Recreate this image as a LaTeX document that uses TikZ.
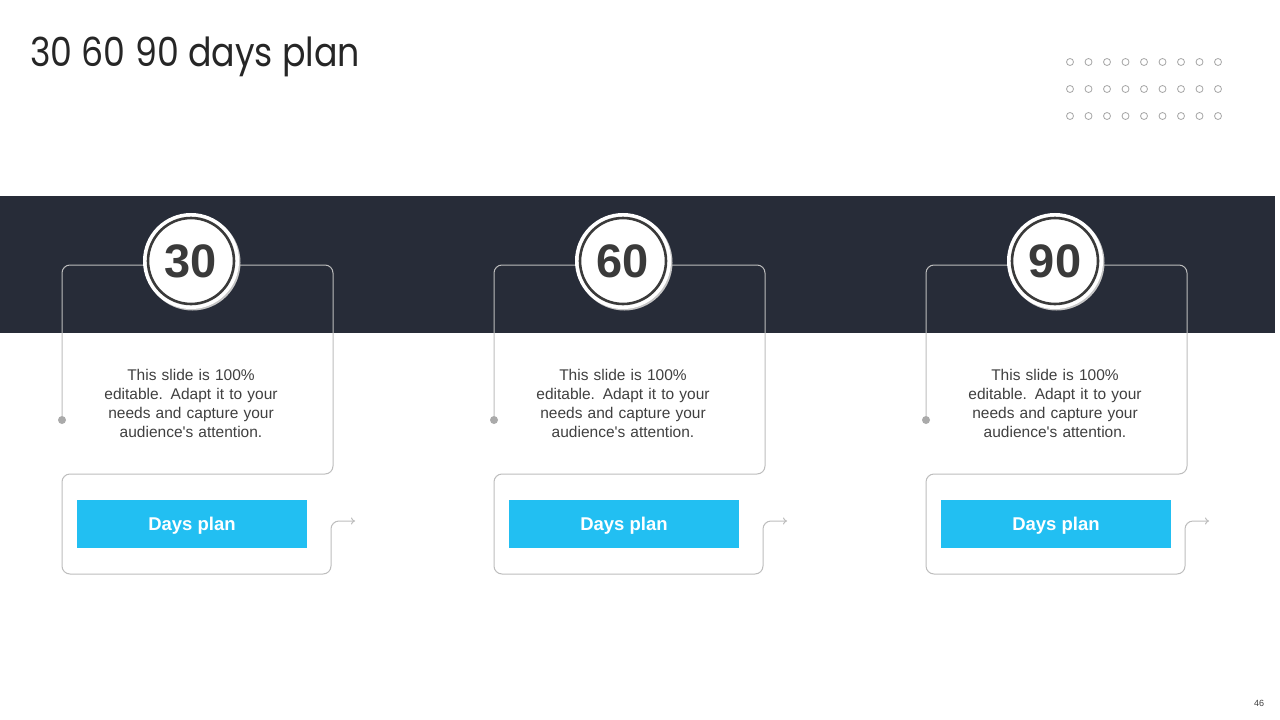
\documentclass[tikz,border=0pt]{standalone}
\usepackage{fontspec}
\setmainfont{Liberation Sans}
\newfontfamily\titlefont{Poppins}
\usepackage{xcolor}
\usetikzlibrary{positioning, arrows.meta}
\definecolor{bandgray}{HTML}{272C38}
\definecolor{planblue}{HTML}{22BFF2}
\definecolor{framegray}{HTML}{BDBDBD}
\definecolor{ringgray}{HTML}{3A3A3A}
\definecolor{textgray}{HTML}{404040}

\begin{document}
\begin{tikzpicture}[x=1pt,y=-1pt]
	\tikzstyle{frame}=[draw=framegray,line width=1pt,rounded corners=8pt]
	\tikzstyle{knob}=[circle,fill=framegray!90!black,inner sep=0pt,minimum size=8pt]
	\tikzstyle{num}=[circle,fill=white,draw=ringgray,line width=2.6pt,minimum size=86pt,inner sep=0pt,
		preaction={draw=white,line width=10pt},text=ringgray,font=\fontsize{47}{47}\selectfont\bfseries]
	\tikzstyle{blurb}=[align=center,text width=200pt,text=textgray,font=\fontsize{15.5}{19}\selectfont]
	\tikzstyle{planbox}=[fill=planblue,minimum width=230pt,minimum height=48pt,inner sep=0pt,
		text=white,text depth=0pt,font=\fontsize{18.5}{18.5}\selectfont\bfseries]
	\tikzstyle{ring}=[draw=gray!70,line width=0.8pt]
	\useasboundingbox (0,0) rectangle (1280,720);
	\fill[white] (0,0) rectangle (1280,720);
	\node[anchor=base west,inner sep=0pt,text=black!85,font=\titlefont\fontsize{40}{40}\selectfont] (title) at (30,66) {\scalebox{0.87}[1]{30 60 90 days plan}};
	\foreach \r in {0,1,2}
		\foreach \c in {0,...,8}
			\draw[ring] (1070+18.5*\c,62+27*\r) circle (3.5pt);
	\fill[bandgray] (0,196) rectangle (1275,333);
	\foreach \i/\n/\w in {0/30/0,1/60/0,2/90/-10}{
		\begin{scope}[xshift=432*\i pt]
			\coordinate (k\n) at (191,265);
			\coordinate (a\n) at (355+\w,521);
			\node[knob] (d\n) at (62,420) {};
			\draw[frame] (k\n) -| (d\n);
			\draw[frame,-{To[length=4pt,width=7pt]}] (k\n) -- (333+\w,265) -- (333+\w,474) -- (62,474) -- (62,574) -- (331+\w,574) -- (331+\w,521) -- (a\n);
			\fill[gray!45] (192.5,262.5) circle (48pt);
			\node[num] (c\n) at (191,261) {\n};
			\node[blurb] (t\n) at (191,403) {This slide is 100\%\\ editable. Adapt it to your\\ needs and capture your\\ audience\textquotesingle s attention.};
			\node[planbox] (b\n) at (192,524) {Days plan};
		\end{scope}
	}
	\node[font=\fontsize{9}{9}\selectfont,text=textgray] (page) at (1259,703) {46};
\end{tikzpicture}
\end{document}
